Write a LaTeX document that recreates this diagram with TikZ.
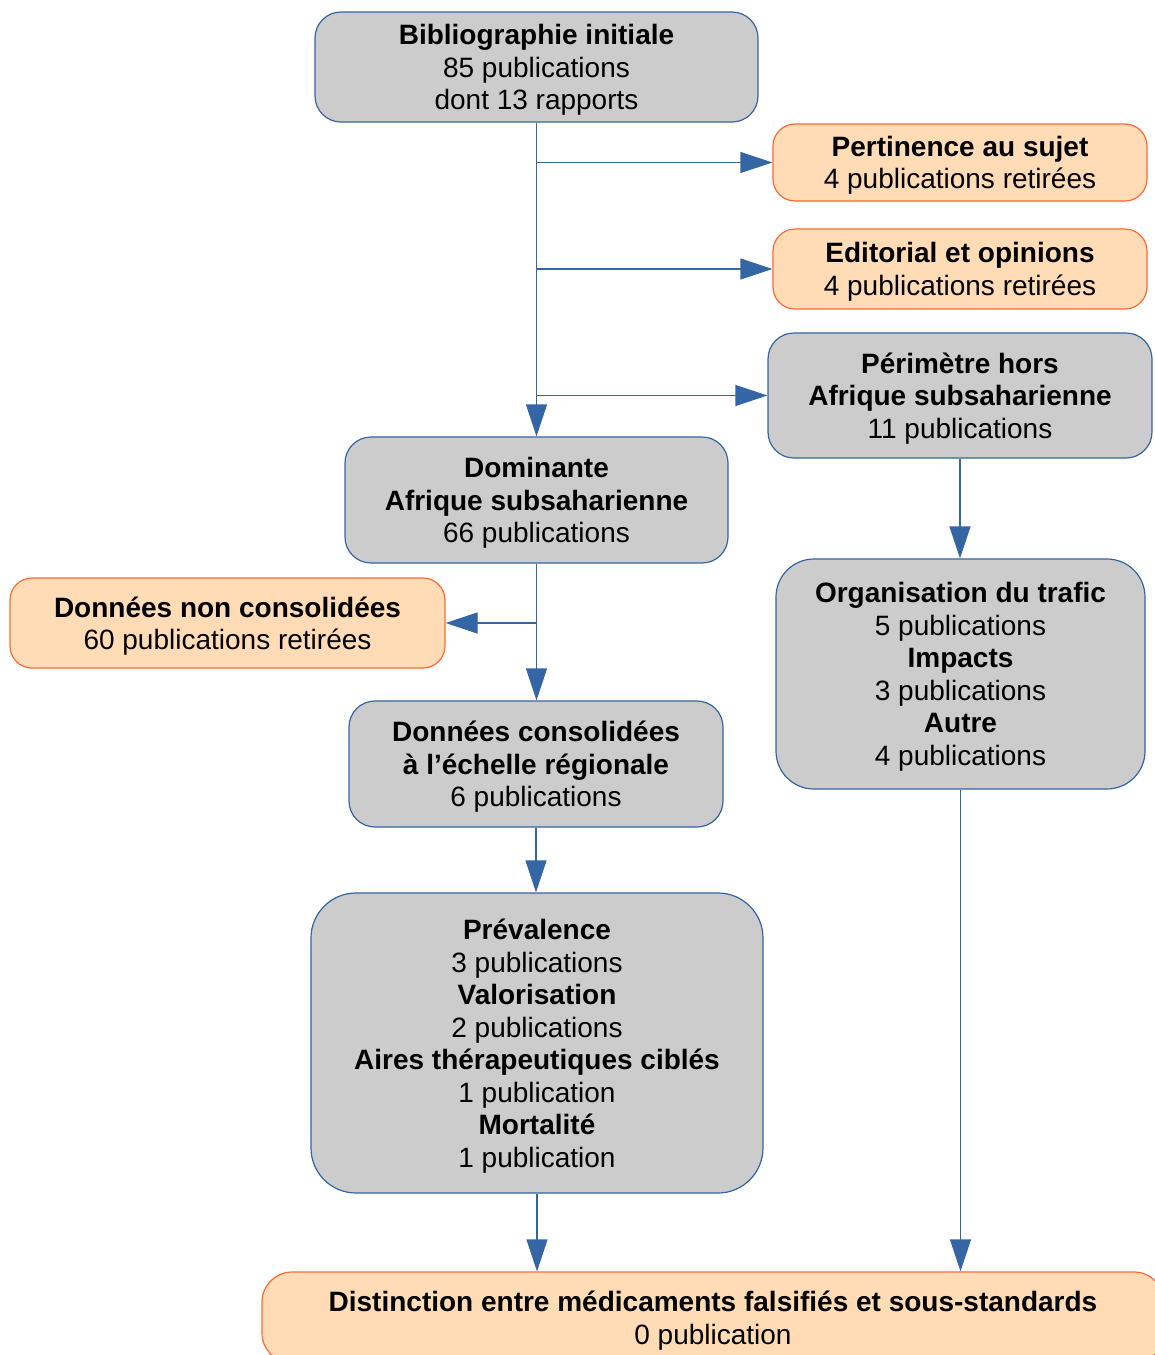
\documentclass[tikz,border=0pt]{standalone}
\usepackage{fontspec}
\setmainfont{Liberation Sans}
\usepackage{tikz}
\usetikzlibrary{arrows.meta, calc}

\definecolor{boxblue}{HTML}{3465A4}
\definecolor{boxgray}{HTML}{CCCCCC}
\definecolor{boxorange}{HTML}{FFDBB6}
\definecolor{lineorange}{HTML}{FF6A33}

\begin{document}
\begin{tikzpicture}[
            x=1pt, y=-1pt,
            >={Triangle[length=32pt, width=21pt]},
            line width=1.2pt,
            font=\fontsize{28}{32.5}\selectfont,
            etape/.style={draw=boxblue, fill=boxgray, rectangle, rounded corners=26pt, align=center, inner sep=0pt, text depth=0pt},
            retrait/.style={draw=lineorange, fill=boxorange, rectangle, rounded corners=22pt, align=center, inner sep=0pt, text depth=0pt},
            fleche/.style={->, draw=boxblue, fill=boxblue}
        ]
        \useasboundingbox (0, 0) rectangle (1155, 1355);

        % Main column
        \node [etape, minimum width=443pt, minimum height=110pt] (biblio) at (536.5, 67) {\textbf{Bibliographie initiale}\\85 publications\\dont 13 rapports};
        \node [etape, minimum width=383pt, minimum height=126pt] (domin) at (536.5, 500) {\textbf{Dominante}\\\textbf{Afrique subsaharienne}\\66 publications};
        \node [etape, minimum width=374pt, minimum height=126pt] (consol) at (536, 764) {\textbf{Données consolidées}\\\textbf{à l’échelle régionale}\\6 publications};
        \node [etape, rounded corners=45pt, minimum width=452pt, minimum height=300pt] (preval) at (537, 1043) {\textbf{Prévalence}\\3 publications\\\textbf{Valorisation}\\2 publications\\\textbf{Aires thérapeutiques ciblés}\\1 publication\\\textbf{Mortalité}\\1 publication};

        % Right column
        \node [retrait, minimum width=374pt, minimum height=77pt] (pert) at (960, 162.5) {\textbf{Pertinence au sujet}\\4 publications retirées};
        \node [retrait, minimum width=374pt, minimum height=80pt] (edito) at (960, 269) {\textbf{Editorial et opinions}\\4 publications retirées};
        \node [etape, minimum width=384pt, minimum height=125pt] (perim) at (960, 395.5) {\textbf{Périmètre hors}\\\textbf{Afrique subsaharienne}\\11 publications};
        \node [etape, rounded corners=38pt, minimum width=369pt, minimum height=230pt] (orga) at (960.5, 674) {\textbf{Organisation du trafic}\\5 publications\\\textbf{Impacts}\\3 publications\\\textbf{Autre}\\4 publications};

        % Left and bottom
        \node [retrait, minimum width=435pt, minimum height=90pt] (noncons) at (227.5, 623) {\textbf{Données non consolidées}\\60 publications retirées};
        \node [retrait, rounded corners=30pt, minimum width=902pt, minimum height=91pt] (distinct) at (713, 1317.5) {\textbf{Distinction entre médicaments falsifiés et sous-standards}\\0 publication};

        % Selection
        \draw[fleche] (biblio.south) to (biblio.south |- domin.north);
        \draw[fleche] ($(biblio.south)!(pert.west)!(domin.north)$) to (pert.west);
        \draw[fleche] ($(biblio.south)!(edito.west)!(domin.north)$) to (edito.west);
        \draw[fleche] ($(biblio.south)!(perim.west)!(domin.north)$) to (perim.west);

        \draw[fleche] (domin.south) to (domin.south |- consol.north);
        \draw[fleche] ($(domin.south)!(noncons.east)!(domin.south |- consol.north)$) to (noncons.east);
        \draw[fleche] (consol.south) to (consol.south |- preval.north);
        \draw[fleche] (perim.south) to (perim.south |- orga.north);

        % Outcome
        \draw[fleche] (preval.south) to (preval.south |- distinct.north);
        \draw[fleche] (orga.south) to (orga.south |- distinct.north);
    \end{tikzpicture}
\end{document}
